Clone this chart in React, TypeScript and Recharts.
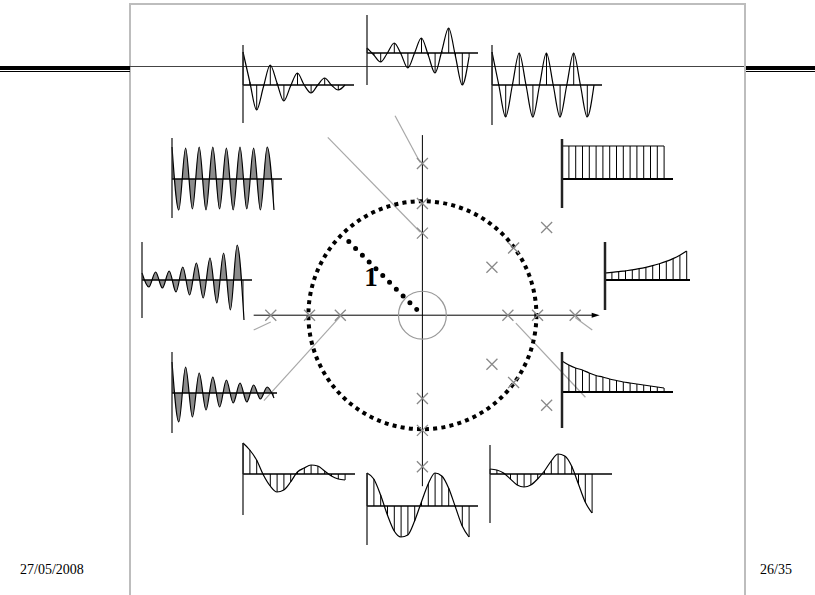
import { ComposedChart, ScatterChart, Scatter, Line, Area, Bar, XAxis, YAxis, ReferenceLine, ReferenceDot } from 'recharts'

// poles on the z-plane, in units of the unit circle
const poleRe = [-1.33, -0.99, -0.72, 0.75, 1.01, 1.34, 0, 0, 0, 0, 0, 0, 1.09, 0.61, 0.8, 0.61, 0.8, 1.09]
const poleIm = [0, 0, 0, 0, 0, 0, 1.33, 0.98, 0.72, -0.73, -1.01, -1.33, 0.77, 0.42, 0.59, -0.43, -0.59, -0.79]

// grey guide strokes from the poles towards their responses: [x1, y1, x2, y2]
const guides = [
  [-0.83, 1.56, -0.02, 0.73],
  [-0.24, 1.75, -0.02, 1.34],
  [-1.39, -0.75, -0.72, -0.01],
  [-1.48, -0.13, -1.33, -0.06],
  [0.82, -0.07, 1.43, -0.72],
  [1.34, -0.02, 1.49, -0.13],
]

// impulse responses h[n] (sample heights)
const hA = [33, 3, -25, -2, 20, 2, -16, -1, 12, 0, -8, 0, 7, 0, -5, 0]
const hB = [5, -2, -9, 0, 10, -1, -15, 0, 15, -2, -20, 2, 25, -3, -32, -4]
const hC = [33, 0, -32, 0, 32, 0, -32, 0, 32, 0, -32, 0, 32, 0, -32, 0]
const hD = [32, -31, 31, -30, 32, -31, 32, -30, 31, -31, 32, -30, 31, -31, 32, -31]
const hE = [7, -7, 8, -8, 9, -12, 13, -15, 17, -18, 22, -23, 27, -30, 35, -40]
const hF = [33, 33, 33, 33, 33, 33, 33, 33, 33, 33, 33, 33, 33, 33, 33, 33]
const hG = [7, 7.6, 8.3, 9.2, 10.1, 11.3, 12.7, 14.3, 16.3, 18.6, 21.4, 24.8, 29]
const hH = [31, -29, 26, -24, 20, -17, 16, -14, 13, -10, 10, -9, 8, -6, 6, -5]
const hI = [31, 27, 24, 22, 19, 16.5, 15, 13, 11.5, 10, 9, 8, 7, 6, 5, 4]
const hJ = [31, 24, 14, -1, -12, -18, -16, -8, 2, 6, 9, 8, 3, -2, -5, -6]
const hK = [33, 27, 11, -9, -25, -31, -29, -15, 4, 22, 33, 30, 18, -1, -20, -31]
const hL = [5, 4, 1, -5, -11, -13, -11, -5, 3, 13, 20, 18, 8, -10, -28, -39]

const UNIT = 114
const ORIGIN = { x: 422, y: 315 }
const XD: [number, number] = [-1.6, 1.6]
const YD: [number, number] = [-1.7, 1.8]

const Cross = (p: any) => (
  <path d={`M${p.cx - 5.5},${p.cy - 5.5}L${p.cx + 5.5},${p.cy + 5.5}M${p.cx - 5.5},${p.cy + 5.5}L${p.cx + 5.5},${p.cy - 5.5}`} stroke="#8a8a8a" strokeWidth={1.3} fill="none" />
)
const Arrow = (p: any) => <path d={`M${p.cx + 4},${p.cy}L${p.cx - 4},${p.cy - 2.5}L${p.cx - 4},${p.cy + 2.5}Z`} fill="#000" />

function ZPlane() {
  const poles = poleRe.map((x, i) => ({ x, y: poleIm[i] }))
  return (
    <div style={{ position: 'absolute', left: ORIGIN.x + XD[0] * UNIT, top: ORIGIN.y - YD[1] * UNIT }}>
      <ScatterChart width={(XD[1] - XD[0]) * UNIT} height={(YD[1] - YD[0]) * UNIT} margin={{ top: 0, right: 0, bottom: 0, left: 0 }}>
        <XAxis type="number" dataKey="x" domain={XD} hide allowDataOverflow />
        <YAxis type="number" dataKey="y" domain={YD} hide allowDataOverflow />
        {guides.map((g, i) => (
          <ReferenceLine key={i} segment={[{ x: g[0], y: g[1] }, { x: g[2], y: g[3] }]} stroke="#a8a8a8" strokeWidth={1.2} />
        ))}
        <ReferenceLine segment={[{ x: -1.48, y: 0 }, { x: 1.52, y: 0 }]} stroke="#000" strokeWidth={1} />
        <ReferenceLine segment={[{ x: 0, y: 1.58 }, { x: 0, y: -1.5 }]} stroke="#000" strokeWidth={1} />
        <ReferenceDot x={0} y={0} r={0.21 * UNIT} fill="none" stroke="#999" strokeWidth={1.2} />
        <ReferenceDot x={0} y={0} r={UNIT} fill="none" stroke="#000" strokeWidth={4} strokeDasharray="4 4.2" />
        <ReferenceLine segment={[{ x: -0.05, y: 0.05 }, { x: -0.7, y: 0.7 }]} stroke="#000" strokeWidth={5} strokeDasharray="0 9.6" strokeLinecap="round" />
        <ReferenceDot x={-0.45} y={0.34} r={0} fill="none" stroke="none"
          label={{ value: '1', position: 'center', fontSize: 27, fontWeight: 'bold', fontFamily: '"Liberation Serif", serif', fill: '#000' }} />
        <Scatter data={poles} shape={Cross} isAnimationActive={false} />
        <Scatter data={[{ x: 1.52, y: 0 }]} shape={Arrow} isAnimationActive={false} />
      </ScatterChart>
    </div>
  )
}

interface ImpulseProps { h: number[]; ax: number; by: number; up: number; down: number; len: number; step?: number; filled?: boolean; heavy?: boolean }

function Impulse({ h, ax, by, up, down, len, step = 6.8, filled, heavy }: ImpulseProps) {
  const data = h.map((v, n) => ({ n, v }))
  const pad = 4
  const H = 52
  return (
    <div style={{ position: 'absolute', left: ax - pad, top: by - H }}>
      <ComposedChart width={len + 2 * pad} height={2 * H} data={data} margin={{ top: 0, right: 0, bottom: 0, left: 0 }}>
        <XAxis type="number" dataKey="n" domain={[-pad / step, (len + pad) / step]} hide allowDataOverflow />
        <YAxis type="number" domain={[-H, H]} hide allowDataOverflow />
        {filled ? (
          <Area type="monotone" dataKey="v" stroke="#000" strokeWidth={1.2} fill="#8c8c8c" fillOpacity={1} isAnimationActive={false} dot={false} />
        ) : (
          <Bar dataKey="v" barSize={1} fill="#000" isAnimationActive={false} />
        )}
        {!filled && <Line type="monotone" dataKey="v" stroke="#000" strokeWidth={1.2} dot={false} isAnimationActive={false} />}
        <ReferenceLine segment={[{ x: 0, y: 0 }, { x: len / step, y: 0 }]} stroke="#000" strokeWidth={heavy ? 2 : 1.5} />
        <ReferenceLine segment={[{ x: 0, y: up }, { x: 0, y: -down }]} stroke="#222" strokeWidth={heavy ? 2.5 : 1.3} />
      </ComposedChart>
    </div>
  )
}

const line = (left: number, top: number, width: number, height: number, background: string) => (
  <div style={{ position: 'absolute', left, top, width, height, background }} />
)

export default function App() {
  return (
    <div style={{ position: 'absolute', left: 0, top: 0, width: 815, height: 595, background: '#fff', overflow: 'hidden', fontFamily: '"Liberation Serif", serif' }}>
      {line(129, 3, 617, 2, '#bdbdbd')}
      {line(129, 3, 2, 592, '#bdbdbd')}
      {line(744, 3, 2, 592, '#bdbdbd')}
      {line(130, 66, 614, 1, '#444')}
      {line(0, 66, 130, 4, '#000')}
      {line(0, 71, 130, 1, '#000')}
      {line(746, 66, 69, 4, '#000')}
      {line(746, 71, 69, 1, '#000')}

      <ZPlane />

      <Impulse h={hA} ax={243} by={85} up={40} down={38} len={111} />
      <Impulse h={hB} ax={367} by={53} up={38} down={32} len={111} />
      <Impulse h={hC} ax={492} by={85} up={40} down={40} len={110} />
      <Impulse h={hD} ax={172} by={179} up={41} down={39} len={110} filled />
      <Impulse h={hE} ax={142} by={280} up={38} down={38} len={110} filled />
      <Impulse h={hF} ax={562} by={179} up={40} down={29} len={111} heavy />
      <Impulse h={hG} ax={605} by={280} up={38} down={30} len={85} heavy />
      <Impulse h={hH} ax={172} by={393} up={41} down={40} len={105} filled />
      <Impulse h={hI} ax={562} by={392} up={40} down={36} len={111} heavy />
      <Impulse h={hJ} ax={243} by={474} up={31} down={41} len={112} />
      <Impulse h={hK} ax={367} by={506} up={33} down={39} len={111} />
      <Impulse h={hL} ax={490} by={474} up={29} down={49} len={122} />

      <div style={{ position: 'absolute', left: 20, top: 562, fontSize: 14, color: '#000' }}>27/05/2008</div>
      <div style={{ position: 'absolute', left: 760, top: 562, fontSize: 14, color: '#000' }}>26/35</div>
    </div>
  )
}
